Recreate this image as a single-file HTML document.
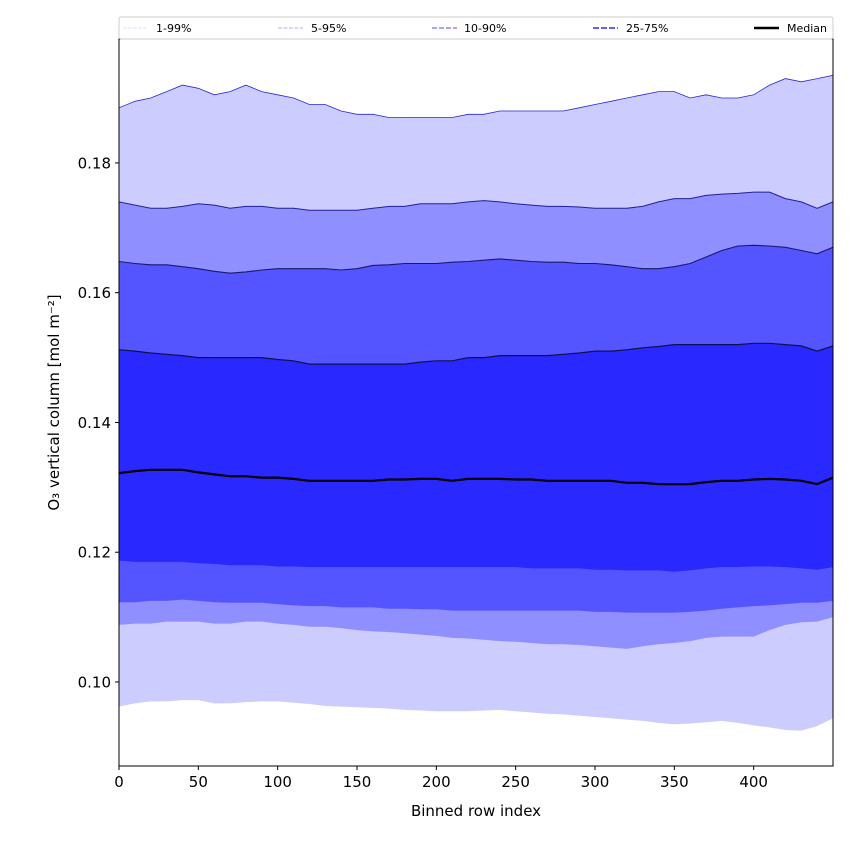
<!DOCTYPE html>
<html><head><meta charset="utf-8"><style>
body{margin:0;background:#fff;}
svg{display:block;font-family:"DejaVu Sans","Liberation Sans",sans-serif;}
</style></head><body>
<svg id="chart" width="850" height="850"></svg>
<script>
const xs = [0,10,20,30,40,50,60,70,80,90,100,110,120,130,140,150,160,170,180,190,200,210,220,230,240,250,260,270,280,290,300,310,320,330,340,350,360,370,380,390,400,410,420,430,440,450];
const p99 = [0.1885,0.1895,0.190,0.191,0.192,0.1915,0.1905,0.191,0.192,0.191,0.1905,0.190,0.189,0.189,0.188,0.1875,0.1875,0.187,0.187,0.187,0.187,0.187,0.1875,0.1875,0.188,0.188,0.188,0.188,0.188,0.1885,0.189,0.1895,0.190,0.1905,0.191,0.191,0.190,0.1905,0.190,0.190,0.1905,0.192,0.193,0.1925,0.193,0.1935];
const p95 = [0.174,0.1735,0.173,0.173,0.1733,0.1737,0.1735,0.173,0.1733,0.1733,0.173,0.173,0.1727,0.1727,0.1727,0.1727,0.173,0.1733,0.1733,0.1737,0.1737,0.1737,0.174,0.1742,0.174,0.1737,0.1735,0.1733,0.1733,0.1732,0.173,0.173,0.173,0.1733,0.174,0.1745,0.1745,0.175,0.1752,0.1753,0.1755,0.1755,0.1745,0.174,0.173,0.174];
const p90 = [0.1648,0.1645,0.1643,0.1643,0.164,0.1637,0.1633,0.163,0.1632,0.1635,0.1637,0.1637,0.1637,0.1637,0.1635,0.1637,0.1642,0.1643,0.1645,0.1645,0.1645,0.1647,0.1648,0.165,0.1652,0.165,0.1648,0.1647,0.1647,0.1645,0.1645,0.1643,0.164,0.1637,0.1637,0.164,0.1645,0.1655,0.1665,0.1672,0.1673,0.1672,0.167,0.1665,0.166,0.167];
const p75 = [0.1512,0.151,0.1507,0.1505,0.1503,0.150,0.150,0.150,0.150,0.150,0.1497,0.1495,0.149,0.149,0.149,0.149,0.149,0.149,0.149,0.1493,0.1495,0.1495,0.150,0.150,0.1503,0.1503,0.1503,0.1503,0.1505,0.1507,0.151,0.151,0.1512,0.1515,0.1517,0.152,0.152,0.152,0.152,0.152,0.1522,0.1522,0.152,0.1518,0.151,0.1518];
const p50 = [0.1322,0.1325,0.1327,0.1327,0.1327,0.1323,0.132,0.1317,0.1317,0.1315,0.1315,0.1313,0.131,0.131,0.131,0.131,0.131,0.1312,0.1312,0.1313,0.1313,0.131,0.1313,0.1313,0.1313,0.1312,0.1312,0.131,0.131,0.131,0.131,0.131,0.1307,0.1307,0.1305,0.1305,0.1305,0.1308,0.131,0.131,0.1312,0.1313,0.1312,0.131,0.1305,0.1315];
const p25 = [0.1187,0.1185,0.1185,0.1185,0.1185,0.1183,0.1182,0.118,0.118,0.118,0.1178,0.1178,0.1177,0.1177,0.1177,0.1177,0.1177,0.1177,0.1177,0.1177,0.1177,0.1177,0.1177,0.1177,0.1177,0.1177,0.1175,0.1175,0.1175,0.1175,0.1173,0.1173,0.1172,0.1172,0.1172,0.117,0.1172,0.1175,0.1177,0.1177,0.1178,0.1178,0.1177,0.1175,0.1173,0.1177];
const p10 = [0.1123,0.1123,0.1125,0.1125,0.1127,0.1125,0.1123,0.1122,0.1122,0.1122,0.112,0.1118,0.1117,0.1117,0.1115,0.1115,0.1115,0.1113,0.1113,0.1112,0.1112,0.111,0.111,0.111,0.111,0.111,0.111,0.111,0.111,0.111,0.1108,0.1108,0.1107,0.1107,0.1107,0.1107,0.1108,0.111,0.1113,0.1115,0.1117,0.1118,0.112,0.1122,0.1122,0.1125];
const p5 = [0.1088,0.109,0.109,0.1093,0.1093,0.1093,0.109,0.109,0.1093,0.1093,0.109,0.1088,0.1085,0.1085,0.1083,0.108,0.1078,0.1077,0.1075,0.1073,0.1071,0.1068,0.1067,0.1065,0.1063,0.1062,0.106,0.1058,0.1058,0.1057,0.1055,0.1053,0.1051,0.1055,0.1058,0.106,0.1063,0.1068,0.107,0.107,0.107,0.108,0.1088,0.1092,0.1093,0.110];
const p1 = [0.0962,0.0967,0.097,0.097,0.0972,0.0972,0.0967,0.0967,0.0969,0.097,0.097,0.0968,0.0966,0.0963,0.0962,0.0961,0.096,0.0959,0.0957,0.0956,0.0955,0.0955,0.0955,0.0956,0.0957,0.0955,0.0953,0.0951,0.095,0.0948,0.0946,0.0944,0.0942,0.094,0.0937,0.0935,0.0936,0.0938,0.094,0.0937,0.0933,0.093,0.0926,0.0925,0.0932,0.0944];
const xTicks = [0,50,100,150,200,250,300,350,400];
const yTicks = [0.10,0.12,0.14,0.16,0.18];

const L=119,R=833,T=39,B=766;
const xmin=0,xmax=450,ymin=0.08705,ymax=0.1991;
const sx=v=>L+(v-xmin)/(xmax-xmin)*(R-L);
const sy=v=>B-(v-ymin)/(ymax-ymin)*(B-T);
const svg=document.getElementById('chart');
const NS='http://www.w3.org/2000/svg';
function mk(tag,attrs,parent){const e=document.createElementNS(NS,tag);for(const k in attrs)e.setAttribute(k,attrs[k]);(parent||svg).appendChild(e);return e;}

function band(lo,hi,fill,name){
  let d='M'+xs.map((x,i)=>sx(x).toFixed(1)+','+sy(hi[i]).toFixed(1)).join('L');
  for(let i=xs.length-1;i>=0;i--) d+='L'+sx(xs[i]).toFixed(1)+','+sy(lo[i]).toFixed(1);
  const p=mk('path',{d:d+'Z',fill:fill});
  
  
}
function line(vals,stroke,w,name){
  const d='M'+xs.map((x,i)=>sx(x).toFixed(1)+','+sy(vals[i]).toFixed(1)).join('L');
  const p=mk('path',{d:d,fill:'none',stroke:stroke,'stroke-width':w});
  
  
}
band(p1,p99,'#ccccff','band-1-99');
band(p5,p95,'#8f8fff','band-5-95');
band(p10,p90,'#5555ff','band-10-90');
band(p25,p75,'#2828ff','band-25-75');
line(p99,'#2a2ad0',0.8,'line-99');
line(p95,'#20209a',1,'line-95');
line(p90,'#181870',1.1,'line-90');
line(p75,'#101050',1.2,'line-75');
line(p50,'#000',2.2,'median-line');

const fr=mk('rect',{x:L,y:T,width:R-L,height:B-T,fill:'none',stroke:'#000','stroke-width':1});



xTicks.forEach(t=>{
  const x=sx(t);
  mk('line',{x1:x,x2:x,y1:B,y2:B+4,stroke:'#000'});
  const tx=mk('text',{x:x,y:B+21,'text-anchor':'middle','font-size':15});
  tx.textContent=t;
  
  
});
yTicks.forEach(t=>{
  const y=sy(t);
  mk('line',{x1:L-4,x2:L,y1:y,y2:y,stroke:'#000'});
  const tx=mk('text',{x:L-8,y:y+5.5,'text-anchor':'end','font-size':15});
  tx.textContent=t.toFixed(2);
  
  
});
const xt=mk('text',{x:(L+R)/2,y:816,'text-anchor':'middle','font-size':15});
xt.textContent='Binned row index';


const yt=mk('text',{x:0,y:0,'text-anchor':'middle','font-size':15,transform:'translate(59,'+((T+B)/2)+') rotate(-90)'});
yt.textContent='O₃ vertical column [mol m⁻²]';



const lg=mk('rect',{x:L,y:17,width:R-L,height:22,fill:'#fff',stroke:'#ccc','stroke-width':1,rx:2});


const leg=[[123,156,'1-99%','#e0e0ff',1,'4,1'],[278,311,'5-95%','#b0b0ff',1,'4,1.5'],[432,464,'10-90%','#8888ff',1.5,'5,2'],[593,626,'25-75%','#6060ff',2,'6,2'],[754,787,'Median','#000',2.5,'']];
leg.forEach(e=>{
  const ln=mk('line',{x1:e[0],x2:e[0]+25,y1:28,y2:28,stroke:e[3],'stroke-width':e[4],'stroke-dasharray':e[5]});
  
  
  const tx=mk('text',{x:e[1],y:32,'font-size':11});
  tx.textContent=e[2];
  
  
});
</script>
</body></html>
